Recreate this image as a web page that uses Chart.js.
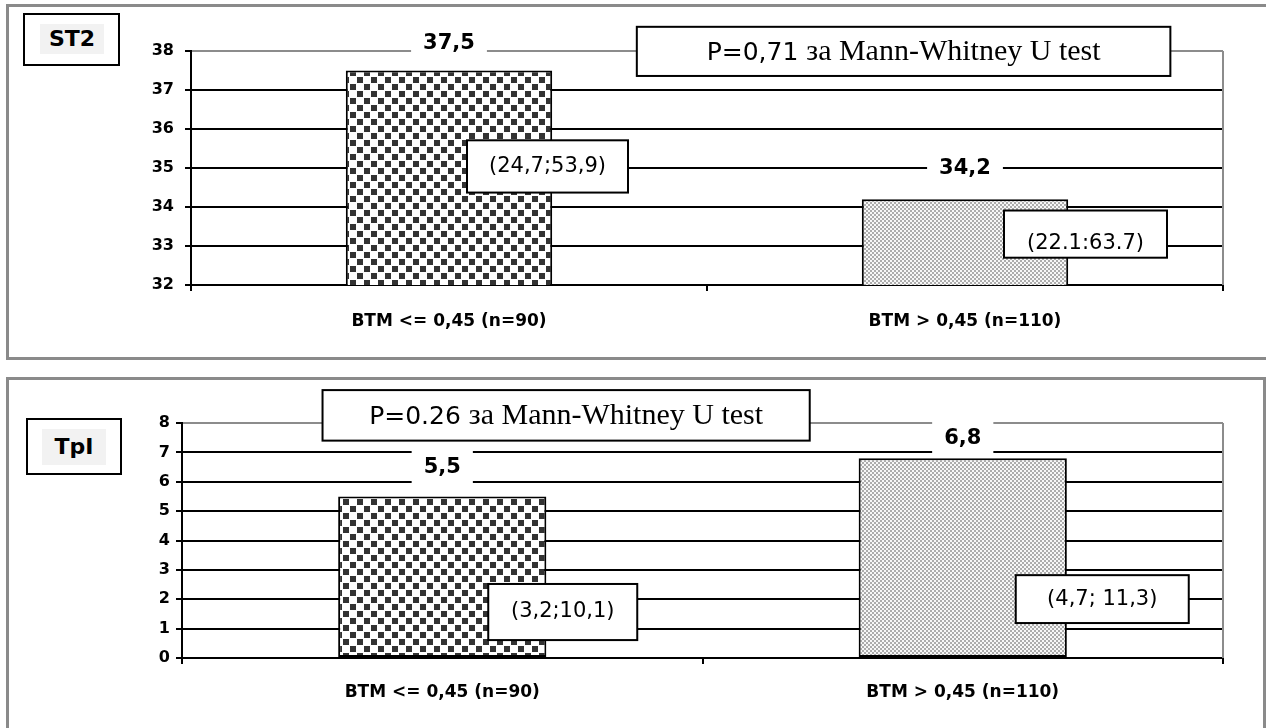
<!DOCTYPE html>
<html>
<head>
<meta charset="utf-8">
<script src="https://cdn.jsdelivr.net/npm/chart.js@4.4.1/dist/chart.umd.min.js"></script>
<style>
body { margin: 0; width: 1266px; height: 728px; position: relative; overflow: hidden; background: #fff; font-family: "DejaVu Sans", sans-serif; }
.panel { position: absolute; border: 3px solid #8a8a8a; box-sizing: border-box; }
#p1 { left: 6px; top: 4px; width: 1272px; height: 356px; }
#p2 { left: 6px; top: 377px; width: 1260px; height: 370px; }
.tag { position: absolute; border: 2px solid #000; box-sizing: border-box; background: #fff; }
.tag span { position: absolute; background: #f2f2f2; font-weight: bold; font-size: 22px; text-align: center; }
canvas { position: absolute; left: 0; }
</style>
</head>
<body>
<div class="panel" id="p1"></div>
<div class="panel" id="p2"></div>
<div class="tag" style="left:23px;top:13px;width:97px;height:53px"><span style="left:15px;top:9px;width:64px;height:30px;line-height:30px">ST2</span></div>
<div class="tag" style="left:26px;top:418px;width:96px;height:57px"><span style="left:14px;top:9px;width:64px;height:36px;line-height:36px">TpI</span></div>
<canvas id="c1" width="1266" height="360" style="top:0"></canvas>
<canvas id="c2" width="1266" height="348" style="top:380px"></canvas>
<script>
// data
const categories = ['BTM <= 0,45 (n=90)', 'BTM > 0,45 (n=110)']
const st2Values = [37.5, 34.2]
const tplValues = [5.5, 6.8]
const st2Axis = [32, 38]
const tplAxis = [0, 8]
const st2Ranges = ['(24,7;53,9)', '(22.1:63.7)']
const tplRanges = ['(3,2;10,1)', '(4,7; 11,3)']
const st2Test = ['P=0,71', 'за Mann-Whitney U test']
const tplTest = ['P=0.26', 'за Mann-Whitney U test']

function checker() {
  const c = document.createElement('canvas')
  c.width = 14; c.height = 14
  const g = c.getContext('2d')
  g.fillStyle = '#fff'; g.fillRect(0, 0, 14, 14)
  g.fillStyle = '#333'
  g.fillRect(0, 0, 6, 6); g.fillRect(7, 7, 6, 6)
  return g.createPattern(c, 'repeat')
}

function dots() {
  const c = document.createElement('canvas')
  c.width = 4; c.height = 4
  const g = c.getContext('2d')
  g.fillStyle = '#f7f7f7'; g.fillRect(0, 0, 4, 4)
  g.fillStyle = '#acacac'
  g.fillRect(0, 0, 2, 2); g.fillRect(2, 2, 2, 2)
  return g.createPattern(c, 'repeat')
}

function box(ctx, x, y, w, h) {
  ctx.fillStyle = '#fff'
  ctx.fillRect(x, y, w, h)
  ctx.strokeStyle = '#000'
  ctx.lineWidth = 2
  ctx.strokeRect(x, y, w, h)
}

const notes = {
  id: 'notes',
  afterDatasetsDraw(chart, args, o) {
    const ctx = chart.ctx
    const area = chart.chartArea
    const y = chart.scales.y
    const meta = chart.getDatasetMeta(0)
    const values = chart.data.datasets[0].data
    ctx.save()
    // plot border right side
    ctx.strokeStyle = '#8c8c8c'
    ctx.lineWidth = 2
    ctx.beginPath()
    ctx.moveTo(area.right, area.top)
    ctx.lineTo(area.right, area.bottom)
    ctx.stroke()

    // value labels
    ctx.font = 'bold 21px "DejaVu Sans"'
    ctx.textAlign = 'center'
    ctx.textBaseline = 'middle'
    meta.data.forEach((bar, i) => {
      const txt = values[i].toFixed(1).replace('.', ',')
      const w = ctx.measureText(txt).width + 24
      const cy = bar.y - o.lift[i]
      ctx.fillStyle = '#fff'
      ctx.fillRect(bar.x - w / 2, cy - 17, w, 34)
      ctx.fillStyle = '#000'
      ctx.fillText(txt, bar.x, cy)
    })

    // interval boxes
    o.ranges.forEach((txt, i) => {
      const b = o.rangeBoxes[i]
      const bar = meta.data[i]
      const x = bar.x + b.dx
      const t = y.getPixelForValue(b.top)
      const h = y.getPixelForValue(b.bottom) - t
      box(ctx, x, t, b.w, h)
      ctx.save()
      ctx.beginPath(); ctx.rect(x, t, b.w, h); ctx.clip()
      ctx.fillStyle = '#000'
      ctx.font = '21px "DejaVu Sans"'
      ctx.textAlign = 'center'
      ctx.textBaseline = 'middle'
      ctx.fillText(txt, x + b.w / 2, t + h / 2 + b.shift)
      ctx.restore()
    })

    // test box
    const tb = o.testBox
    const bx = area.left + tb.from * (area.right - area.left)
    const bw = (tb.to - tb.from) * (area.right - area.left)
    const bt = y.getPixelForValue(tb.top)
    const bh = y.getPixelForValue(tb.bottom) - bt
    box(ctx, bx, bt, bw, bh)
    ctx.fillStyle = '#000'
    ctx.textBaseline = 'alphabetic'
    ctx.textAlign = 'left'
    ctx.font = '25px "DejaVu Sans"'
    const a = o.test[0] + ' '
    const wa = ctx.measureText(a).width
    ctx.font = '30px "Liberation Serif"'
    const wb = ctx.measureText(o.test[1]).width
    const tx = bx + (bw - wa - wb) / 2
    const base = bt + bh / 2 + 9
    ctx.font = '25px "DejaVu Sans"'
    ctx.fillText(a, tx, base)
    ctx.font = '30px "Liberation Serif"'
    ctx.fillText(o.test[1], tx + wa, base)
    ctx.restore()
  }
}

function makeChart(id, values, axis, L, extra) {
  const ctx = document.getElementById(id).getContext('2d')
  return new Chart(ctx, {
    type: 'bar',
    data: {
      labels: categories,
      datasets: [{
        data: values,
        backgroundColor: [checker(), dots()],
        borderColor: '#000',
        borderWidth: 2,
        borderSkipped: false,
        categoryPercentage: 1,
        barPercentage: 0.4
      }]
    },
    options: {
      responsive: false,
      animation: false,
      devicePixelRatio: 1,
      layout: { padding: { top: L.top, right: 1266 - L.right, left: 0, bottom: 0 } },
      plugins: {
        legend: { display: false },
        tooltip: { enabled: false },
        notes: extra
      },
      scales: {
        x: {
          offset: true,
          grid: { drawOnChartArea: false, offset: true, tickLength: 6, color: '#000', lineWidth: 2 },
          border: { color: '#000', width: 2 },
          ticks: { color: '#000', padding: L.xPad, font: { family: 'DejaVu Sans', size: 17, weight: 'bold' } },
          afterFit: s => { s.height = L.h - L.bottom }
        },
        y: {
          min: axis[0],
          max: axis[1],
          ticks: { stepSize: 1, color: '#000', padding: L.yPad, font: { family: 'DejaVu Sans', size: 16, weight: 'bold' } },
          grid: {
            color: c => (c.tick && c.tick.value === axis[1]) ? '#8c8c8c' : '#000',
            tickColor: '#000',
            lineWidth: 2,
            tickLength: 6
          },
          border: { color: '#000', width: 2 },
          afterFit: s => { s.width = L.left }
        }
      }
    },
    plugins: [notes]
  })
}

makeChart('c1', st2Values, st2Axis,
  { h: 360, left: 191, right: 1223, top: 51, bottom: 285, xPad: 20, yPad: 11 },
  {
    lift: [27, 31],
    ranges: st2Ranges,
    rangeBoxes: [
      { dx: 18, w: 161, top: 35.71, bottom: 34.37, shift: 0 },
      { dx: 39, w: 163, top: 33.91, bottom: 32.7, shift: 9 }
    ],
    test: st2Test,
    testBox: { from: 0.432, to: 0.949, top: 38.62, bottom: 37.36 }
  })

makeChart('c2', tplValues, tplAxis,
  { h: 348, left: 182, right: 1223, top: 43, bottom: 278, xPad: 18, yPad: 6 },
  {
    lift: [29, 20],
    ranges: tplRanges,
    rangeBoxes: [
      { dx: 46, w: 149, top: 2.52, bottom: 0.61, shift: 0 },
      { dx: 53, w: 173, top: 2.82, bottom: 1.19, shift: 0 }
    ],
    test: tplTest,
    testBox: { from: 0.135, to: 0.603, top: 9.12, bottom: 7.4 }
  })
</script>
</body>
</html>
